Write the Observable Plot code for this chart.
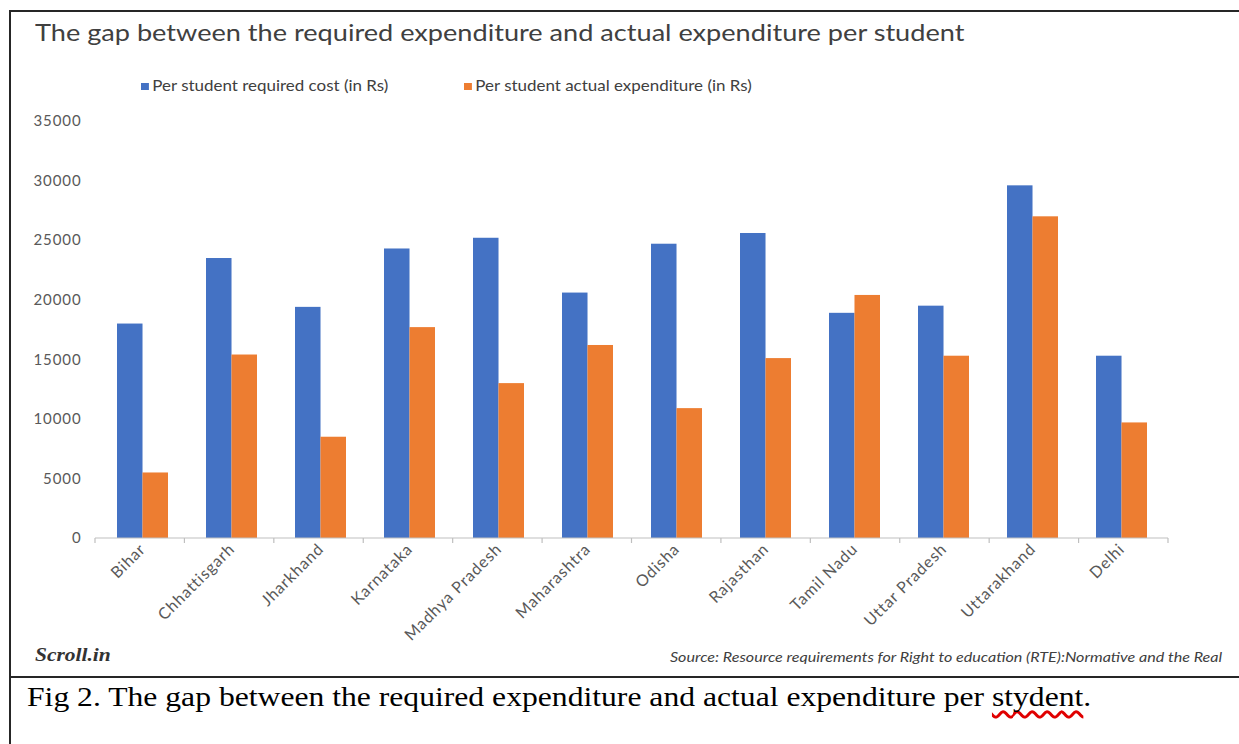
<!DOCTYPE html>
<html><head><meta charset="utf-8">
<script src="https://cdn.jsdelivr.net/npm/d3@7"></script>
<script src="https://cdn.jsdelivr.net/npm/@observablehq/plot@0.6"></script>
<style>
html,body{margin:0;padding:0;background:#fff;}
#page{position:relative;width:1239px;height:744px;overflow:hidden;font-family:Lato,sans-serif;}
.ln{position:absolute;background:#262626;}
.sx{transform:scaleX(1.13);transform-origin:0 0;}
#title{position:absolute;left:35px;top:20px;font-size:24px;line-height:1;color:#404040;white-space:nowrap;}
.leg{position:absolute;top:78px;font-size:15px;line-height:1;color:#404040;white-space:nowrap;}
.leg i{display:inline-block;width:7px;height:7px;margin-right:3px;vertical-align:1px;}
#chart{position:absolute;left:0;top:100px;}
#chart svg text{letter-spacing:0.9px;}
#logo{position:absolute;left:35px;top:645px;font-family:"Liberation Serif",serif;font-style:italic;font-weight:bold;font-size:19px;line-height:1;color:#333;}
#source{position:absolute;right:17px;top:650px;font-style:italic;font-size:14px;line-height:1;color:#404040;white-space:nowrap;transform:scaleX(1.15);transform-origin:100% 0;}
#caption{position:absolute;left:27px;top:683px;font-family:"Liberation Serif",serif;font-size:28px;line-height:28px;color:#000;white-space:nowrap;}
#caption span{text-decoration:underline wavy #e00000;text-decoration-skip-ink:none;text-underline-offset:4px;}
</style>
</head><body>
<div id="page">
  <div class="ln" style="left:9px;top:10px;width:1230px;height:2px;"></div>
  <div class="ln" style="left:9px;top:10px;width:2px;height:734px;"></div>
  <div class="ln" style="left:9px;top:676px;width:1230px;height:2px;"></div>
  <div id="title" class="sx">The gap between the required expenditure and actual expenditure per student</div>
  <div class="leg sx" style="left:141px;"><i style="background:#4472C4"></i>Per student required cost (in Rs)</div>
  <div class="leg sx" style="left:464px;"><i style="background:#ED7D31"></i>Per student actual expenditure (in Rs)</div>
  <div id="chart"></div>
  <div id="logo" class="sx">Scroll.in</div>
  <div id="source">Source: Resource requirements for Right to education (RTE):Normative and the Real</div>
  <div id="caption" class="sx">Fig 2. The gap between the required expenditure and actual expenditure per <span>stydent</span>.</div>
</div>
<script>
const states = ["Bihar","Chhattisgarh","Jharkhand","Karnataka","Madhya Pradesh","Maharashtra","Odisha","Rajasthan","Tamil Nadu","Uttar Pradesh","Uttarakhand","Delhi"];
const requiredCost = [18000,23500,19400,24300,25200,20600,24700,25600,18900,19500,29600,15300];
const actualExpenditure = [5500,15400,8500,17700,13000,16200,10900,15100,20400,15300,27000,9700];
const yTicks = [0,5000,10000,15000,20000,25000,30000,35000];

const BLUE = "#4472C4", ORANGE = "#ED7D31";
const W = 1239, H = 545, mL = 95, mR = 71, mT = 21, mB = 107;
const padInner = 0.43;
const halfBand = (W - mL - mR) / states.length * (1 - padInner) / 2;

const rows = states.map((s, i) => ({state: s, required: requiredCost[i], actual: actualExpenditure[i]}));

function baseAxis(index, scales, values, dims) {
  const g = d3.create("svg:g");
  const x0 = dims.marginLeft, x1 = dims.width - dims.marginRight, y = scales.y(0);
  g.append("line").attr("x1", x0).attr("x2", x1).attr("y1", y).attr("y2", y).attr("stroke", "#bfbfbf").attr("stroke-width", 1.2);
  const step = (x1 - x0) / states.length;
  for (let i = 0; i <= states.length; i++) {
    const x = x0 + i * step;
    g.append("line").attr("x1", x).attr("x2", x).attr("y1", y).attr("y2", y + 5).attr("stroke", "#bfbfbf").attr("stroke-width", 1.2);
  }
  return g.node();
}

const chart = Plot.plot({
  width: W, height: H,
  marginTop: mT, marginBottom: mB, marginLeft: mL, marginRight: mR,
  style: {fontFamily: "Lato, sans-serif", fontSize: "15px", color: "#595959", background: "transparent"},
  x: {domain: states, paddingInner: padInner, paddingOuter: padInner / 2, label: null},
  y: {domain: [0, 35000], label: null},
  marks: [
    Plot.axisY({ticks: yTicks, tickSize: 0, tickPadding: 14, tickFormat: d3.format("d"), label: null, fontSize: 15}),
    Plot.axisX({tickSize: 0, tickPadding: 8, tickRotate: -45, label: null, fontSize: 16}),
    Plot.barY(rows, {x: "state", y: "required", fill: BLUE, insetRight: halfBand}),
    Plot.barY(rows, {x: "state", y: "actual", fill: ORANGE, insetLeft: halfBand}),
    baseAxis
  ]
});
document.getElementById("chart").appendChild(chart);
</script>
</body></html>
